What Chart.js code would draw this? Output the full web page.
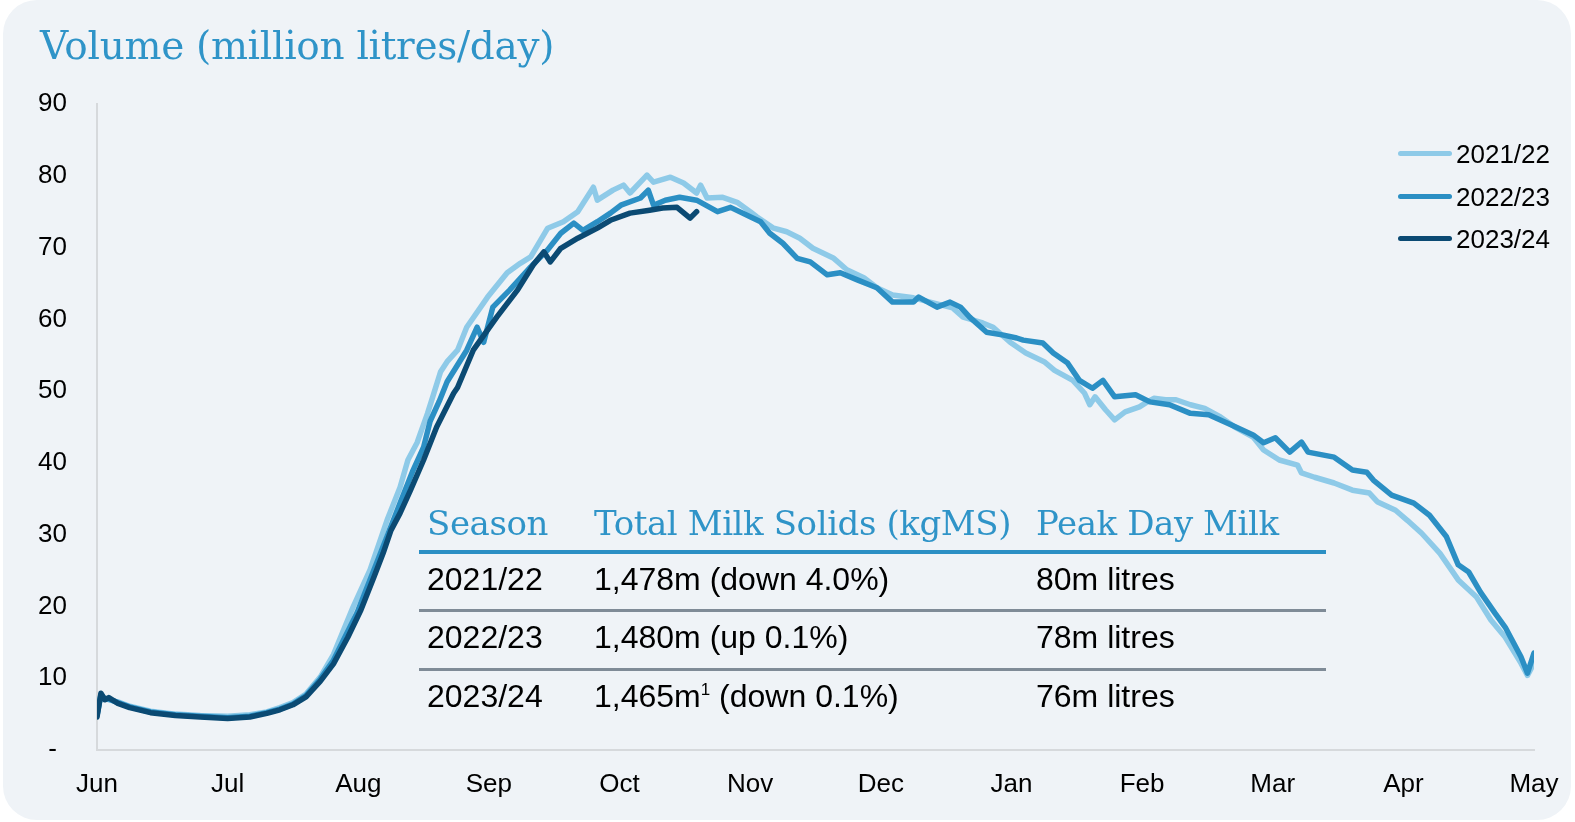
<!DOCTYPE html>
<html>
<head>
<meta charset="utf-8">
<script src="https://cdn.jsdelivr.net/npm/chart.js@4/dist/chart.umd.min.js"></script>
<style>
  html, body { margin: 0; padding: 0; background: #ffffff; }
  body { width: 1575px; height: 822px; position: relative; overflow: hidden; font-family: "Liberation Sans", Arial, sans-serif; }
  #panel { position: absolute; left: 3px; top: 0; width: 1568px; height: 820px; background: #eff3f7; border-radius: 34px; }
  #chart { position: absolute; left: 0; top: 0; }
  .title { position: absolute; left: 40px; top: 26px; font-family: "DejaVu Serif", serif; font-size: 39px; line-height: 39px; color: #2f94c8; white-space: nowrap; letter-spacing: -0.3px; }
  .legend { position: absolute; left: 1398px; top: 0; }
  .legend .item { position: absolute; left: 0; height: 30px; white-space: nowrap; }
  .legend .swatch { position: absolute; left: 0; top: 12px; width: 54px; height: 5px; border-radius: 3px; }
  .legend .label { position: absolute; left: 58px; top: 0; font-size: 26px; line-height: 30px; color: #000; }
  .tbl { position: absolute; left: 0; top: 0; }
  .tbl .hd { position: absolute; font-family: "DejaVu Serif", serif; font-size: 34px; line-height: 34px; color: #2f94c8; white-space: nowrap; letter-spacing: -0.4px; }
  .tbl .cell { position: absolute; font-size: 32px; line-height: 32px; color: #000; white-space: nowrap; }
  .tbl .cell sup { font-size: 17px; vertical-align: 0; position: relative; top: -12px; }
  .tbl .rule { position: absolute; left: 419px; width: 907px; }
</style>
</head>
<body>
<div id="panel"></div>
<canvas id="chart" width="1575" height="822"></canvas>
<div class="title">Volume (million litres/day)</div>
<div class="legend" id="legend"></div>
<div class="tbl" id="tbl"></div>
<script>
// month labels along the x axis (one tick per month, equally spaced)
const months = ['Jun', 'Jul', 'Aug', 'Sep', 'Oct', 'Nov', 'Dec', 'Jan', 'Feb', 'Mar', 'Apr', 'May'];
const seasons = ['2021/22', '2022/23', '2023/24'];
const yTicks = [0, 10, 20, 30, 40, 50, 60, 70, 80, 90];

// x = position in months from 1 June, y = million litres/day
const pos2122 = [0.00, 0.03, 0.06, 0.09, 0.16, 0.25, 0.41, 0.60, 0.79, 1.00, 1.17, 1.30, 1.40, 1.50, 1.60, 1.71, 1.81, 1.96, 2.09, 2.22, 2.32, 2.38, 2.45, 2.53, 2.57, 2.63, 2.68, 2.76, 2.83, 2.99, 3.14, 3.24, 3.32, 3.45, 3.57, 3.68, 3.80, 3.83, 3.95, 4.03, 4.08, 4.21, 4.26, 4.39, 4.49, 4.59, 4.62, 4.67, 4.79, 4.90, 5.00, 5.05, 5.18, 5.28, 5.38, 5.48, 5.64, 5.74, 5.87, 5.97, 6.09, 6.25, 6.40, 6.55, 6.63, 6.78, 6.86, 6.99, 7.11, 7.25, 7.33, 7.47, 7.56, 7.60, 7.64, 7.72, 7.79, 7.87, 7.98, 8.04, 8.09, 8.18, 8.26, 8.37, 8.48, 8.60, 8.71, 8.85, 8.93, 9.05, 9.19, 9.22, 9.32, 9.47, 9.61, 9.74, 9.80, 9.94, 10.03, 10.14, 10.28, 10.42, 10.56, 10.67, 10.78, 10.90, 10.95, 11.00];
const vol2122 = [4.9, 7.6, 7.2, 7.0, 6.7, 6.1, 5.4, 5.0, 4.8, 4.7, 4.9, 5.3, 5.9, 6.6, 7.8, 10.2, 13.3, 19.9, 25.1, 32.0, 36.6, 40.4, 42.8, 46.9, 49.2, 52.7, 54.1, 55.7, 58.9, 63.1, 66.5, 67.8, 68.7, 72.7, 73.6, 75.0, 78.4, 76.6, 78.0, 78.7, 77.6, 80.1, 79.1, 79.8, 79.0, 77.6, 78.7, 76.9, 77.0, 76.3, 75.0, 74.3, 72.7, 72.2, 71.3, 69.9, 68.5, 66.9, 65.8, 64.4, 63.4, 63.0, 62.3, 61.6, 60.3, 59.5, 58.9, 56.8, 55.3, 54.1, 52.9, 51.5, 49.7, 48.1, 49.2, 47.4, 46.0, 47.1, 47.8, 48.5, 49.0, 48.8, 48.8, 48.1, 47.6, 46.4, 45.0, 43.6, 41.8, 40.4, 39.7, 38.6, 38.0, 37.2, 36.2, 35.8, 34.6, 33.4, 32.0, 30.2, 27.4, 23.7, 21.3, 18.1, 15.7, 12.1, 10.4, 12.1];

const pos2223 = [0.00, 0.03, 0.06, 0.09, 0.16, 0.25, 0.41, 0.60, 0.79, 1.00, 1.17, 1.30, 1.40, 1.50, 1.60, 1.71, 1.81, 1.99, 2.17, 2.32, 2.42, 2.50, 2.55, 2.62, 2.68, 2.83, 2.91, 2.96, 3.03, 3.16, 3.32, 3.45, 3.55, 3.65, 3.72, 3.83, 3.93, 4.01, 4.16, 4.22, 4.26, 4.35, 4.46, 4.59, 4.75, 4.85, 5.00, 5.08, 5.15, 5.25, 5.36, 5.46, 5.59, 5.69, 5.82, 5.97, 6.09, 6.25, 6.29, 6.43, 6.53, 6.61, 6.68, 6.81, 6.94, 7.04, 7.09, 7.24, 7.32, 7.43, 7.52, 7.62, 7.70, 7.79, 7.95, 8.06, 8.21, 8.37, 8.51, 8.68, 8.85, 8.93, 9.02, 9.13, 9.22, 9.27, 9.47, 9.61, 9.72, 9.77, 9.91, 10.08, 10.20, 10.33, 10.42, 10.50, 10.59, 10.70, 10.78, 10.90, 10.95, 11.00];
const vol2223 = [4.8, 7.7, 7.1, 7.1, 6.6, 6.0, 5.3, 4.9, 4.7, 4.5, 4.7, 5.2, 5.7, 6.4, 7.6, 9.9, 12.5, 19.1, 27.4, 34.4, 39.0, 42.2, 45.8, 48.6, 51.3, 55.7, 58.9, 56.8, 61.7, 64.1, 67.3, 69.7, 72.0, 73.4, 72.4, 73.6, 74.8, 75.9, 76.9, 78.0, 75.9, 76.6, 77.0, 76.6, 75.0, 75.6, 74.3, 73.6, 72.0, 70.6, 68.5, 68.0, 66.2, 66.5, 65.5, 64.4, 62.4, 62.4, 63.1, 61.7, 62.4, 61.7, 60.3, 58.2, 57.8, 57.4, 57.1, 56.7, 55.3, 53.9, 51.5, 50.4, 51.5, 49.2, 49.5, 48.5, 48.1, 46.9, 46.7, 45.3, 43.9, 42.8, 43.5, 41.5, 42.9, 41.5, 40.8, 39.0, 38.7, 37.6, 35.5, 34.4, 32.7, 29.7, 25.8, 24.8, 22.0, 19.1, 17.1, 13.0, 10.7, 13.5];

const pos2324 = [0.00, 0.03, 0.06, 0.09, 0.16, 0.25, 0.41, 0.60, 0.79, 1.00, 1.17, 1.30, 1.40, 1.50, 1.60, 1.71, 1.81, 1.92, 2.02, 2.12, 2.19, 2.25, 2.32, 2.40, 2.50, 2.60, 2.73, 2.76, 2.88, 3.06, 3.22, 3.34, 3.42, 3.47, 3.55, 3.68, 3.83, 3.93, 4.08, 4.23, 4.33, 4.44, 4.54, 4.59];
const vol2324 = [4.6, 7.9, 7.0, 7.3, 6.5, 5.9, 5.2, 4.8, 4.6, 4.4, 4.6, 5.1, 5.6, 6.3, 7.4, 9.6, 12.0, 15.7, 19.5, 24.1, 27.4, 30.6, 33.0, 36.2, 40.4, 45.0, 49.7, 50.5, 55.7, 60.3, 64.1, 67.6, 69.4, 68.0, 69.9, 71.3, 72.7, 73.8, 74.8, 75.2, 75.5, 75.6, 74.1, 75.0];

// summary table shown inside the plot
const tableHead = ['Season', 'Total Milk Solids (kgMS)', 'Peak Day Milk'];
const tableSolids = ['1,478m (down 4.0%)', '1,480m (up 0.1%)', '1,465m<sup>1</sup> (down 0.1%)'];
const tablePeak = ['80m litres', '78m litres', '76m litres'];

const colors = ['#8ecae8', '#2b8fc4', '#0b4a73'];

function toPoints(xs, ys) {
    return xs.map((x, i) => ({ x: x, y: ys[i] }));
}

const seriesPos = [pos2122, pos2223, pos2324];
const seriesVol = [vol2122, vol2223, vol2324];

const datasets = seasons.map((s, i) => ({
    label: s,
    data: toPoints(seriesPos[i], seriesVol[i]),
    borderColor: colors[i],
    backgroundColor: colors[i],
    borderWidth: 5.5,
    pointRadius: 0,
    tension: 0,
    borderJoinStyle: 'round',
    borderCapStyle: 'round',
    order: 3 - i   // latest season drawn on top
}));

new Chart(document.getElementById('chart').getContext('2d'), {
    type: 'line',
    data: { datasets: datasets },
    options: {
        responsive: false,
        animation: false,
        devicePixelRatio: 1,
        layout: { padding: { top: 104, right: 41, bottom: 0, left: 0 } },
        plugins: { legend: { display: false }, tooltip: { enabled: false } },
        scales: {
            x: {
                type: 'linear',
                min: 0,
                max: months.length - 1,
                afterFit: (scale) => {
                    scale.height = 72;
                    scale.paddingLeft = 0;
                    scale.paddingRight = 0;
                },
                afterBuildTicks: (scale) => { scale.ticks = months.map((m, i) => ({ value: i })); },
                ticks: {
                    padding: 19,
                    maxRotation: 0,
                    autoSkip: false,
                    color: '#000',
                    font: { family: 'Liberation Sans', size: 26 },
                    callback: (v) => months[v]
                },
                grid: { display: false, drawTicks: false },
                border: { display: true, color: '#d6d9dc', width: 2 }
            },
            y: {
                min: 0,
                max: 90,
                afterFit: (scale) => { scale.width = 97; },
                afterBuildTicks: (scale) => { scale.ticks = yTicks.map(v => ({ value: v })); },
                ticks: {
                    padding: 30,
                    crossAlign: 'center',
                    color: '#000',
                    font: { family: 'Liberation Sans', size: 26 },
                    callback: (v) => v === 0 ? '-' : v
                },
                grid: { display: false, drawTicks: false },
                border: { display: true, color: '#d6d9dc', width: 2 }
            }
        }
    }
});

// legend
const legend = document.getElementById('legend');
const legendTops = [139, 182, 224];
seasons.forEach((s, i) => {
    const item = document.createElement('div');
    item.className = 'item';
    item.style.top = legendTops[i] + 'px';
    item.innerHTML = '<div class="swatch" style="background:' + colors[i] + '"></div><div class="label">' + s + '</div>';
    legend.appendChild(item);
});

// table
const tbl = document.getElementById('tbl');
const colX = [427, 594, 1036];
tableHead.forEach((h, i) => {
    const d = document.createElement('div');
    d.className = 'hd';
    d.style.left = colX[i] + 'px';
    d.style.top = '506px';
    d.textContent = h;
    tbl.appendChild(d);
});
const rowTops = [563, 621, 680];
seasons.forEach((s, r) => {
    [s, tableSolids[r], tablePeak[r]].forEach((txt, c) => {
        const d = document.createElement('div');
        d.className = 'cell';
        d.style.left = colX[c] + 'px';
        d.style.top = rowTops[r] + 'px';
        d.innerHTML = txt;
        tbl.appendChild(d);
    });
});
const rules = [[550, 4, '#2b8fc4'], [609, 3, '#7f8b97'], [668, 3, '#7f8b97']];
rules.forEach(([y, h, c]) => {
    const d = document.createElement('div');
    d.className = 'rule';
    d.style.top = y + 'px';
    d.style.height = h + 'px';
    d.style.background = c;
    tbl.appendChild(d);
});
</script>
</body>
</html>
